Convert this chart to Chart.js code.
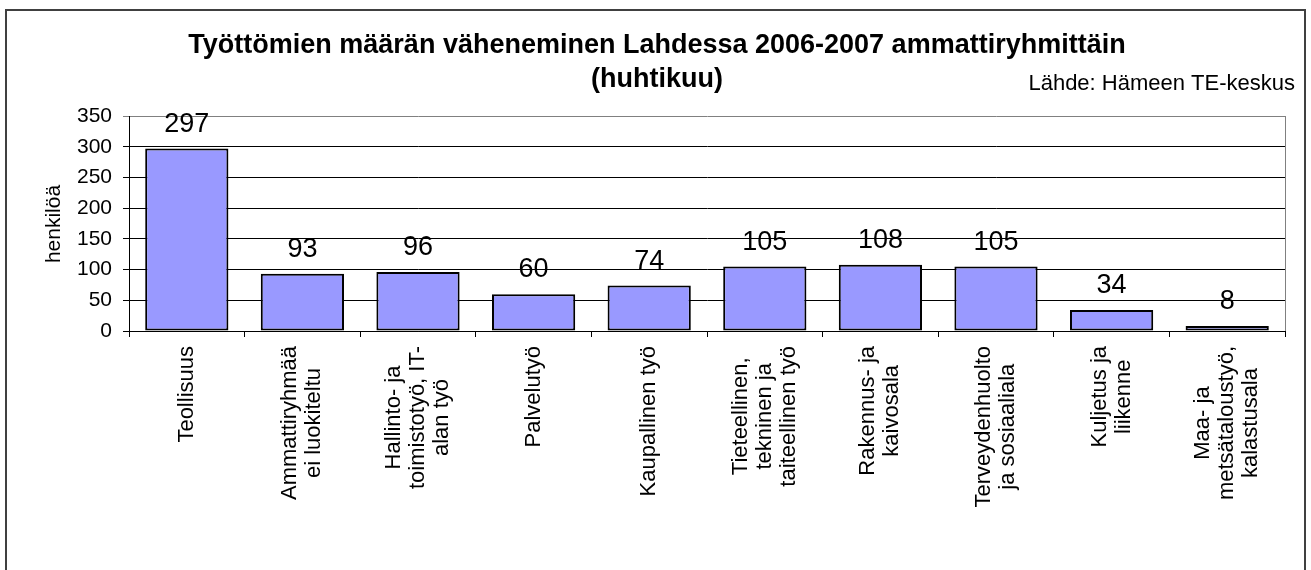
<!DOCTYPE html>
<html>
<head>
<meta charset="utf-8">
<script src="https://cdn.jsdelivr.net/npm/chart.js@4.4.0/dist/chart.umd.min.js"></script>
<style>
  html, body { margin: 0; padding: 0; background: #fff; }
  canvas { display: block; }
</style>
</head>
<body>
<canvas id="chart" width="1311" height="570"></canvas>
<script>
// Chart data
const categories = [
  ['Teollisuus'],
  ['Ammattiryhmää', 'ei luokiteltu'],
  ['Hallinto- ja', 'toimistotyö, IT-', 'alan työ'],
  ['Palvelutyö'],
  ['Kaupallinen työ'],
  ['Tieteellinen,', 'tekninen ja', 'taiteellinen työ'],
  ['Rakennus- ja', 'kaivosala'],
  ['Terveydenhuolto', 'ja sosiaaliala'],
  ['Kuljetus ja', 'liikenne'],
  ['Maa- ja', 'metsätaloustyö,', 'kalastusala']
];
const values = [297, 93, 96, 60, 74, 105, 108, 105, 34, 8];
const yMin = 0;
const yMax = 350;
const yStep = 50;
const titleLines = ['Työttömien määrän väheneminen Lahdessa 2006-2007 ammattiryhmittäin', '(huhtikuu)'];
const sourceText = 'Lähde: Hämeen TE-keskus';
const yAxisTitle = 'henkilöä';

const FONT = '"Liberation Sans", Arial, sans-serif';

// Draws the frame, titles, value labels and rotated category labels
const decorPlugin = {
  id: 'decor',
  afterDraw(chart) {
    const ctx = chart.ctx;
    const area = chart.chartArea;
    const xScale = chart.scales.x;

    ctx.save();

    // outer frame (open at the bottom)
    ctx.strokeStyle = '#404040';
    ctx.lineWidth = 2;
    ctx.strokeRect(6, 10, 1299, 620);

    // plot area right border
    ctx.strokeStyle = '#808080';
    ctx.lineWidth = 1;
    ctx.beginPath();
    ctx.moveTo(Math.round(area.right) + 0.5, area.top);
    ctx.lineTo(Math.round(area.right) + 0.5, area.bottom);
    ctx.stroke();

    // title
    ctx.fillStyle = '#000';
    ctx.font = 'bold 27px ' + FONT;
    ctx.textAlign = 'center';
    ctx.textBaseline = 'alphabetic';
    ctx.fillText(titleLines[0], 657, 53);
    ctx.fillText(titleLines[1], 657, 87);

    // source
    ctx.font = '22px ' + FONT;
    ctx.textAlign = 'right';
    ctx.fillText(sourceText, 1295, 90);

    // y axis title
    ctx.save();
    ctx.translate(54, 224);
    ctx.rotate(-Math.PI / 2);
    ctx.textAlign = 'center';
    ctx.textBaseline = 'middle';
    ctx.font = '21px ' + FONT;
    ctx.fillText(yAxisTitle, 0, 0);
    ctx.restore();

    // value labels above bars
    const meta = chart.getDatasetMeta(0);
    ctx.font = '27px ' + FONT;
    ctx.textAlign = 'center';
    ctx.textBaseline = 'alphabetic';
    meta.data.forEach((bar, i) => {
      ctx.fillText(String(values[i]), bar.x, bar.y - 17);
    });

    // category labels, rotated, lines centred on each other
    ctx.font = '22px ' + FONT;
    const lineGap = 24;
    const top = area.bottom + 15;
    categories.forEach((lines, i) => {
      const x = xScale.getPixelForValue(i);
      const w = Math.max(...lines.map(l => ctx.measureText(l).width));
      lines.forEach((line, k) => {
        const cx = x + (k - (lines.length - 1) / 2) * lineGap;
        ctx.save();
        ctx.translate(cx, top + w / 2);
        ctx.rotate(-Math.PI / 2);
        ctx.textAlign = 'center';
        ctx.textBaseline = 'middle';
        ctx.fillText(line, 0, 0);
        ctx.restore();
      });
    });

    ctx.restore();
  }
};

const ctx = document.getElementById('chart').getContext('2d');
const chart = new Chart(ctx, {
  type: 'bar',
  data: {
    labels: categories,
    datasets: [{
      data: values,
      backgroundColor: '#9999FF',
      borderColor: '#000000',
      borderWidth: 2,
      borderSkipped: false,
      barPercentage: 0.72,
      categoryPercentage: 1.0
    }]
  },
  options: {
    responsive: false,
    animation: false,
    events: [],
    layout: {
      padding: { top: 116, right: 26, bottom: 0, left: 0 }
    },
    plugins: {
      legend: { display: false },
      title: { display: false },
      tooltip: { enabled: false }
    },
    scales: {
      x: {
        offset: true,
        grid: {
          display: true,
          offset: true,
          drawOnChartArea: false,
          drawTicks: true,
          tickLength: 6,
          color: '#000000'
        },
        border: { color: '#000000', width: 1 },
        ticks: { display: false },
        afterFit: scale => { scale.height = 239; }
      },
      y: {
        min: yMin,
        max: yMax,
        ticks: {
          stepSize: yStep,
          color: '#000000',
          padding: 11,
          font: { family: FONT, size: 21 }
        },
        grid: {
          color: c => (c.tick && c.tick.value === yMax ? '#808080' : '#000000'),
          lineWidth: 1,
          tickLength: 6
        },
        border: { color: '#000000', width: 1 },
        afterFit: scale => { scale.width = 129; }
      }
    }
  },
  plugins: [decorPlugin]
});
</script>
</body>
</html>
